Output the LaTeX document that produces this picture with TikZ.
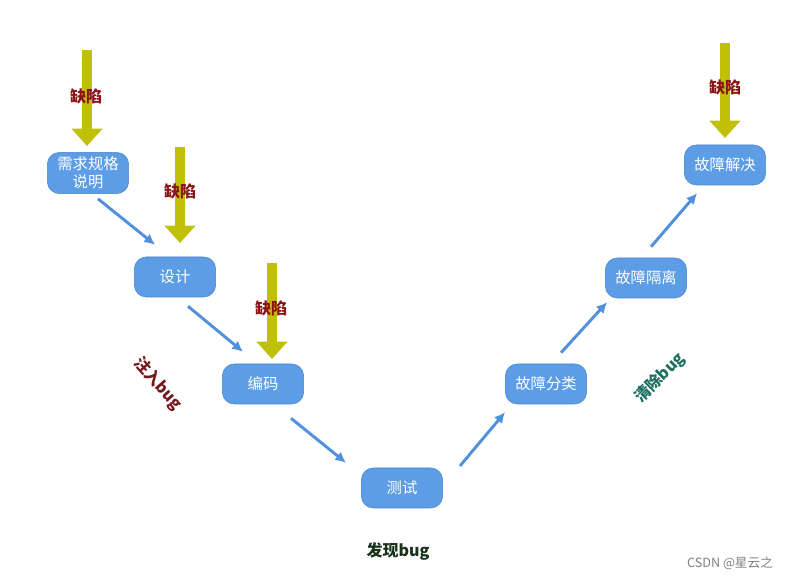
\documentclass[tikz,border=0pt]{standalone}
\usepackage{fontspec}
\setmainfont{Noto Sans CJK SC}
\usetikzlibrary{arrows.meta, calc}
\definecolor{stageblue}{RGB}{92,157,230}
\definecolor{stageedge}{RGB}{70,130,205}
\definecolor{flowblue}{RGB}{80,144,220}
\definecolor{defectyellow}{RGB}{192,192,8}
\definecolor{defectred}{RGB}{140,20,20}
\definecolor{injectred}{RGB}{115,25,30}
\definecolor{cleanteal}{RGB}{30,110,95}
\definecolor{founddark}{RGB}{25,50,25}

\begin{document}
\begin{tikzpicture}[x=0.75pt, y=-0.75pt,
	stage/.style={rounded corners=9pt, fill=stageblue, draw=stageedge, text=white,
		minimum width=61pt, minimum height=30pt, align=center,
		font=\fontsize{11.5}{13.5}\selectfont},
	flow/.style={draw=flowblue, line width=2.2pt, -{Latex[length=8pt,width=8pt]}},
	defect/.style={draw=defectyellow, line width=7.5pt, -{Triangle[length=13pt,width=22.5pt]}},
	defecttext/.style={text=defectred, font=\fontsize{12}{14}\selectfont\bfseries},
	phase/.style={font=\fontsize{12}{14}\selectfont\bfseries}]
	\useasboundingbox (0,0) rectangle (804,580);
	% stages
	\node [stage] (req) at (88,173) {需求规格\\说明};
	\node [stage] (des) at (175,277) {设计};
	\node [stage] (cod) at (263,384) {编码};
	\node [stage] (tst) at (402,488) {测试};
	\node [stage] (cls) at (546,384) {故障分类};
	\node [stage] (iso) at (646,278) {故障隔离};
	\node [stage] (sol) at (725,165) {故障解决};
	% flow arrows
	\draw [flow] ($(req.south)+(10,5)$) -- ($(des.north)+(-20,-12)$);
	\draw [flow] ($(des.south)+(13,9)$) -- ($(cod.north)+(-20,-12)$);
	\draw [flow] ($(cod.south)+(28,14)$) -- ($(tst.north)+(-56,-5)$);
	\draw [flow] ($(tst.east)+(17,-22)$) -- ($(cls.south west)+(0,8)$);
	\draw [flow] ($(cls.north)+(15,-11)$) -- ($(iso.south west)+(2,4)$);
	\draw [flow] ($(iso.north)+(5,-11)$) -- ($(sol.south west)+(13,8)$);
	% defects
	\coordinate (D1) at (87,50);
	\coordinate (D2) at (180,147);
	\coordinate (D3) at (272,263);
	\coordinate (D4) at (725,43);
	\draw [defect] (D1) -- (87,146);
	\draw [defect] (D2) -- (180,243);
	\draw [defect] (D3) -- (272,359);
	\draw [defect] (D4) -- (725,138);
	\node [defecttext] (d1) at (86,96) {缺陷};
	\node [defecttext] (d2) at (180,191) {缺陷};
	\node [defecttext] (d3) at (271,308) {缺陷};
	\node [defecttext] (d4) at (725,87) {缺陷};
	% phases
	\node [phase, text=injectred, rotate=-48] (inj) at (158,384) {注入bug};
	\node [phase, text=cleanteal, rotate=45] (cln) at (660,378) {清除bug};
	\node [phase, text=founddark] (fnd) at (398,552) {发现bug};
	\node [text=gray, font=\fontsize{9.5}{11}\selectfont] (mark) at (730,563) {CSDN @星云之};
\end{tikzpicture}
\end{document}
